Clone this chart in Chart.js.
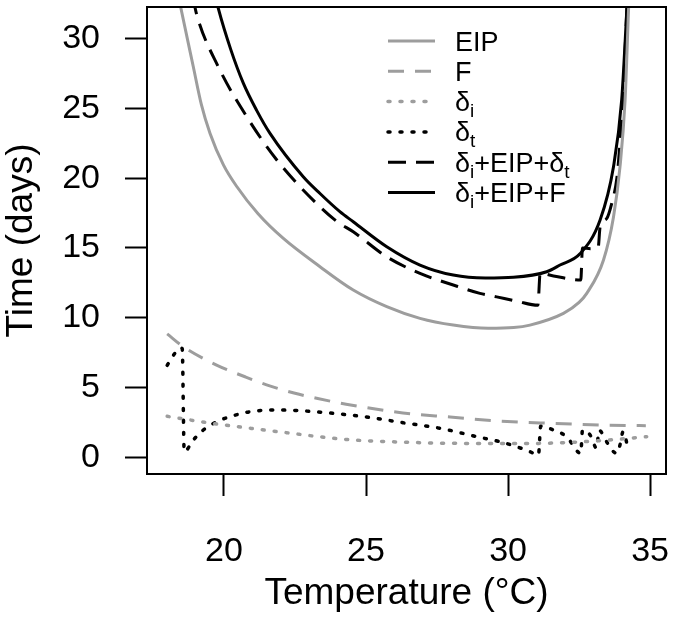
<!DOCTYPE html>
<html>
<head>
<meta charset="utf-8">
<script src="https://cdn.jsdelivr.net/npm/chart.js@4.4.1/dist/chart.umd.min.js"></script>
<style>
html, body { margin: 0; padding: 0; background: #fff; }
</style>
</head>
<body>
<canvas id="chart" width="677" height="617"></canvas>
<script>
// Values
const xTicks = [20, 25, 30, 35];
const yTicks = [0, 5, 10, 15, 20, 25, 30];

const eipTemp = [18.4, 18.48, 18.92, 19.2, 19.51, 19.98, 20.45, 21.2, 22.08, 23.38, 24.55, 25.73, 26.9, 28.07, 29.3, 30.2, 30.77, 31.95, 32.5, 32.77, 33.36, 33.71, 33.94, 34.12, 34.24, 34.27];
const eipDays = [33.0, 32.2, 27.97, 25.3, 23.2, 20.95, 19.4, 17.45, 15.7, 13.66, 11.99, 10.8, 9.96, 9.48, 9.25, 9.3, 9.48, 10.32, 11.1, 11.75, 14.14, 17.2, 20.8, 25.6, 32.0, 33.5];

const fTemp = [18.0, 18.57, 19.74, 20.74, 21.5, 22.5, 23.26, 24.3, 26.3, 27.96, 29.72, 31.48, 33.24, 34.85];
const fDays = [8.85, 7.93, 6.62, 5.78, 5.2, 4.6, 4.24, 3.82, 3.19, 2.9, 2.61, 2.45, 2.33, 2.28];

const deltaITemp = [18.0, 19.57, 21.91, 24.26, 26.3, 28.55, 30.89, 32.65, 33.83, 34.88];
const deltaIDays = [2.95, 2.45, 1.85, 1.3, 1.1, 1.01, 1.01, 1.13, 1.3, 1.49];

const deltaTTemp = [18.0, 18.27, 18.45, 18.53, 18.6, 18.92, 19.27, 19.74, 20.21, 20.92, 21.86, 22.68, 23.85, 25.2, 26.3, 27.61, 29.01, 29.72, 30.31, 30.77, 31.07, 31.15, 31.6, 32.06, 32.56, 32.62, 32.89, 33.12, 33.2, 33.47, 33.65, 33.83, 33.94, 34.05, 34.23];
const deltaTDays = [6.6, 7.46, 7.85, 7.8, 0.42, 1.25, 1.97, 2.56, 2.92, 3.28, 3.4, 3.35, 3.16, 2.85, 2.49, 2.09, 1.44, 1.13, 0.77, 0.42, 0.18, 2.25, 1.97, 1.49, 0.3, 1.97, 1.61, 0.66, 1.95, 1.13, 0.54, 0.3, 0.9, 1.85, 0.6];

const sumTTemp = [18.9, 19.04, 19.8, 20.8, 21.86, 23.2, 23.97, 24.55, 25.73, 26.9, 28.07, 29.01, 29.6, 30.3, 31.05, 31.13, 31.6, 32.56, 32.62, 32.9, 33.17, 33.24, 33.47, 33.65, 33.83, 33.94, 34.05, 34.2];
const sumTDays = [33.0, 31.7, 27.97, 24.4, 21.3, 18.3, 16.9, 16.16, 14.37, 13.18, 12.35, 11.75, 11.5, 11.2, 10.9, 13.2, 13.0, 12.7, 15.0, 14.95, 15.0, 16.5, 17.1, 18.2, 20.0, 22.5, 26.0, 33.0];

const sumFTemp = [19.7, 19.8, 20.24, 20.68, 21.15, 21.62, 22.79, 23.38, 24.08, 24.55, 25.73, 26.9, 28.07, 29.2, 30.19, 31.36, 31.83, 32.54, 33.24, 33.71, 34.0, 34.18, 34.22];
const sumFDays = [33.0, 32.15, 29.2, 26.8, 24.85, 23.2, 20.1, 18.9, 17.6, 16.88, 15.09, 13.78, 13.06, 12.85, 12.9, 13.3, 13.78, 14.6, 17.0, 20.8, 25.6, 32.0, 33.5];

const legendLabels = ['EIP', 'F', 'δ_i', 'δ_t', 'δ_i+EIP+δ_t', 'δ_i+EIP+F'];

const GRAY = '#9d9d9d';
const FONT = "'Liberation Sans', Arial, sans-serif";

function pts(xs, ys) {
    return xs.map((x, i) => ({ x: x, y: ys[i] }));
}

function line(label, xs, ys, color, dash, width, cap) {
    return {
        label: label,
        data: pts(xs, ys),
        borderColor: color,
        borderWidth: width,
        borderDash: dash,
        borderCapStyle: cap || 'butt',
        pointRadius: 0,
        fill: false,
        cubicInterpolationMode: 'monotone'
    };
}

// keep the plot box where the reference has it
function noScalePadding(s) {
    s.paddingLeft = 0;
    s.paddingRight = 0;
    s.paddingTop = 0;
    s.paddingBottom = 0;
}

// frame around the plot + legend inside it
const framePlugin = {
    id: 'frameLegend',
    afterDatasetsDraw(chart) {
        const ctx = chart.ctx;
        const a = chart.chartArea;
        ctx.save();
        ctx.strokeStyle = '#000';
        ctx.lineWidth = 2;
        ctx.setLineDash([]);
        ctx.strokeRect(a.left, a.top, a.right - a.left, a.bottom - a.top);

        const x0 = 388, x1 = 435, tx = 455, y0 = 41, step = 30.3;
        chart.data.datasets.forEach((ds, i) => {
            const y = y0 + i * step;
            ctx.beginPath();
            ctx.strokeStyle = ds.borderColor;
            ctx.lineWidth = ds.borderWidth;
            ctx.lineCap = ds.borderCapStyle;
            ctx.setLineDash(ds.borderDash);
            ctx.moveTo(x0, y);
            ctx.lineTo(x1, y);
            ctx.stroke();

            // text with subscripts
            ctx.setLineDash([]);
            ctx.fillStyle = '#000';
            ctx.textBaseline = 'alphabetic';
            ctx.textAlign = 'left';
            const base = y + 9.5;
            let x = tx;
            legendLabels[i].split(/(_\w)/).forEach(part => {
                if (!part) return;
                if (part[0] === '_') {
                    ctx.font = '19px ' + FONT;
                    ctx.fillText(part[1], x, base + 6);
                    x += ctx.measureText(part[1]).width;
                } else {
                    ctx.font = '27px ' + FONT;
                    ctx.fillText(part, x, base);
                    x += ctx.measureText(part).width;
                }
            });
        });
        ctx.restore();
    }
};

new Chart(document.getElementById('chart').getContext('2d'), {
    type: 'line',
    data: {
        datasets: [
            line('EIP', eipTemp, eipDays, GRAY, [], 3),
            line('F', fTemp, fDays, GRAY, [16, 11], 3),
            line('δi', deltaITemp, deltaIDays, GRAY, [2, 10], 3.5, 'round'),
            line('δt', deltaTTemp, deltaTDays, '#000', [2, 10], 3.5, 'round'),
            line('δi+EIP+δt', sumTTemp, sumTDays, '#000', [18, 10], 3),
            line('δi+EIP+F', sumFTemp, sumFDays, '#000', [], 3)
        ]
    },
    options: {
        responsive: false,
        animation: false,
        devicePixelRatio: 1,
        layout: { padding: { top: 7, right: 11, left: 0, bottom: 0 } },
        plugins: {
            legend: { display: false },
            tooltip: { enabled: false }
        },
        scales: {
            x: {
                type: 'linear',
                min: 17.29,
                max: 35.56,
                afterBuildTicks: s => { s.ticks = xTicks.map(v => ({ value: v })); },
                afterFit: s => { s.height = 143; noScalePadding(s); },
                border: { display: false },
                grid: { drawOnChartArea: false, drawTicks: true, tickLength: 22, tickWidth: 2, tickColor: '#000' },
                ticks: { color: '#000', font: { family: FONT, size: 34 }, padding: 35, maxRotation: 0, autoSkip: false },
                title: { display: true, text: 'Temperature (°C)', color: '#000', font: { family: FONT, size: 37 }, padding: { top: 0, bottom: 1 } }
            },
            y: {
                type: 'linear',
                min: -1.18,
                max: 32.25,
                afterBuildTicks: s => { s.ticks = yTicks.map(v => ({ value: v })); },
                afterFit: s => { s.width = 147; noScalePadding(s); },
                border: { display: false },
                grid: { drawOnChartArea: false, drawTicks: true, tickLength: 22, tickWidth: 2, tickColor: '#000' },
                ticks: { color: '#000', font: { family: FONT, size: 34 }, padding: 25, autoSkip: false },
                title: { display: true, text: 'Time (days)', color: '#000', font: { family: FONT, size: 37 }, padding: { top: 0, bottom: 0 } }
            }
        }
    },
    plugins: [framePlugin]
});
</script>
</body>
</html>
